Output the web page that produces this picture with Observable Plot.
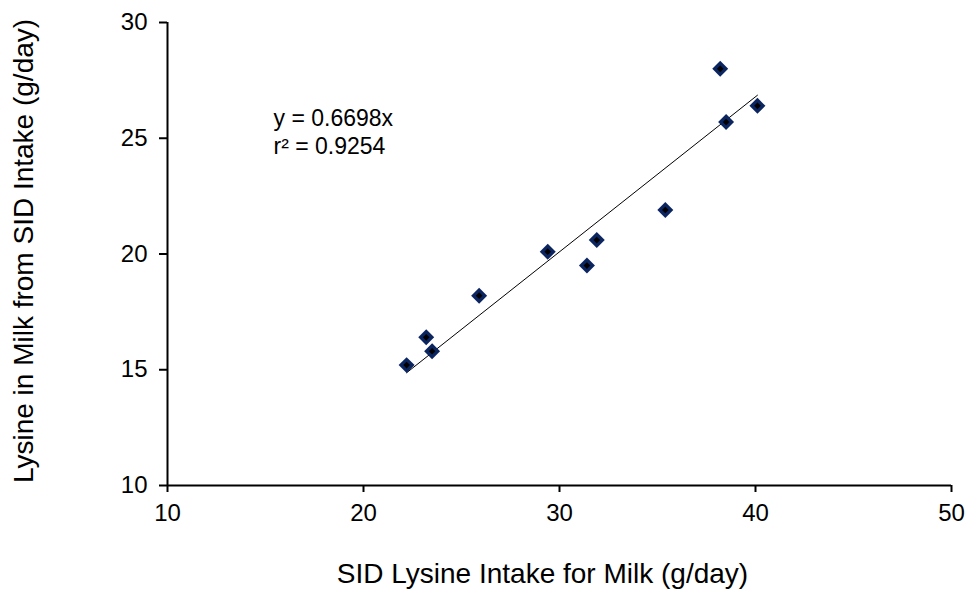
<!DOCTYPE html>
<html>
<head>
<meta charset="utf-8">
<script src="https://cdn.jsdelivr.net/npm/d3@7"></script>
<script src="https://cdn.jsdelivr.net/npm/@observablehq/plot@0.6"></script>
<style>
  html, body { margin: 0; padding: 0; background: #fff; }
  #chart svg { display: block; }
  #chart svg g[aria-label$="tick label"] { font-size: 24px; }
</style>
</head>
<body>
<div id="chart"></div>
<script>
// SID lysine intake for milk vs. lysine in milk from SID intake (g/day)
const sidIntake  = [22.2, 23.2, 23.5, 25.9, 29.4, 31.4, 31.9, 35.4, 38.2, 38.5, 40.1];
const milkLysine = [15.2, 16.4, 15.8, 18.2, 20.1, 19.5, 20.6, 21.9, 28.0, 25.7, 26.4];

// Regression through the origin
const slope = 0.6698;
const rSquared = 0.9254;

const xTicks = [10, 20, 30, 40, 50];
const yTicks = [10, 15, 20, 25, 30];

const xTitle = "SID Lysine Intake for Milk (g/day)";
const yTitle = "Lysine in Milk from SID Intake (g/day)";

const points = sidIntake.map((x, i) => ({x, y: milkLysine[i]}));
const fit = d3.extent(sidIntake).map(x => ({x, y: slope * x}));
const equation = `y = ${slope}x\nr² = ${rSquared}`;

const font = "Liberation Sans, Arial, sans-serif";

const chart = Plot.plot({
  width: 968,
  height: 592,
  marginLeft: 167,
  marginRight: 17,
  marginTop: 22,
  marginBottom: 107,
  style: {fontFamily: font, fontSize: "24px", background: "#fff", color: "#000"},
  x: {domain: [10, 50]},
  y: {domain: [10, 30]},
  marks: [
    Plot.axisX({ticks: xTicks, tickSize: 7, tickPadding: 11, fontSize: 24, strokeWidth: 2, label: null}),
    Plot.axisY({ticks: yTicks, tickSize: 8, tickPadding: 12, fontSize: 24, strokeWidth: 2, label: null}),
    Plot.ruleX([10], {stroke: "#000", strokeWidth: 2}),
    Plot.ruleY([10], {stroke: "#000", strokeWidth: 2}),
    Plot.line(fit, {x: "x", y: "y", stroke: "#000", strokeWidth: 1}),
    Plot.dot(points, {x: "x", y: "y", symbol: "diamond2", r: 7.2, fill: "#0b2560", stroke: "none"}),
    Plot.dot(points, {x: "x", y: "y", symbol: "diamond2", r: 3, fill: "#000", stroke: "none"}),
    Plot.text([equation], {frameAnchor: "top-left", dx: 106, dy: 84, lineAnchor: "top", textAnchor: "start",
      fontSize: 23, lineHeight: 1.22, fill: "#000"}),
    Plot.text([xTitle], {frameAnchor: "bottom", dx: -17, dy: 89, lineAnchor: "middle", textAnchor: "middle",
      fontSize: 28, fill: "#000"}),
    Plot.text([yTitle], {frameAnchor: "left", dx: -143, dy: -3, rotate: -90, lineAnchor: "middle", textAnchor: "middle",
      fontSize: 28, fill: "#000"})
  ]
});

document.getElementById("chart").append(chart);
</script>
</body>
</html>
